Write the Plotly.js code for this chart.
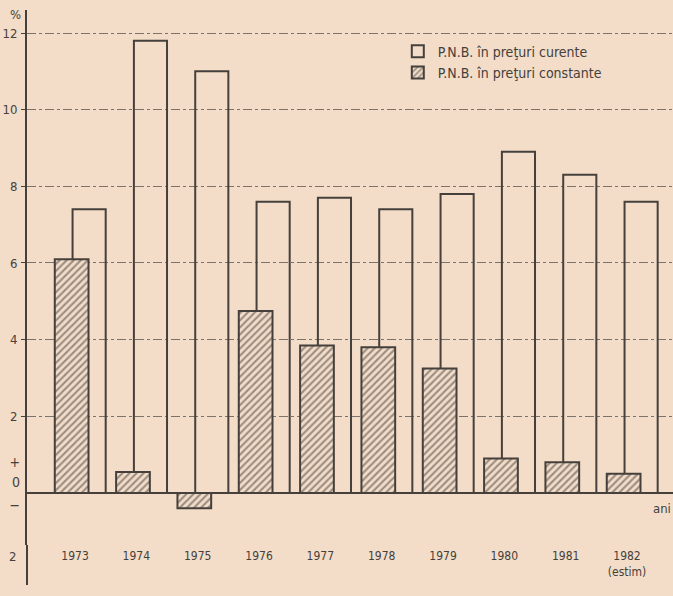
<!DOCTYPE html>
<html>
<head>
<meta charset="utf-8">
<script src="https://cdn.plot.ly/plotly-3.0.1.min.js"></script>
<style>
html,body{margin:0;padding:0;background:#f3ddc9;}
#chart{width:673px;height:596px;}
</style>
</head>
<body>
<div id="chart"></div>
<script>
// ---- data ----
const years = [1973, 1974, 1975, 1976, 1977, 1978, 1979, 1980, 1981, 1982];
const yearLabels = ['1973', '1974', '1975', '1976', '1977', '1978', '1979', '1980', '1981', '1982<br>(estim)'];
const pnbCurente = [7.4, 11.8, 11.0, 7.6, 7.7, 7.4, 7.8, 8.9, 8.3, 7.6];
const pnbConstante = [6.1, 0.55, -0.4, 4.75, 3.85, 3.8, 3.25, 0.9, 0.8, 0.5];
const yTickVals = [2, 4, 6, 8, 10, 12];
const yTickText = ['2', '4', '6', '8', '10', '12'];
const signVals = [0.8, 0.29, -0.31];
const signText = ['+', '0', '\u2212'];
const seriesNames = ['P.N.B. \u00een pre\u0163uri curente', 'P.N.B. \u00een pre\u0163uri constante'];

const bg = '#f3ddc9';
const ink = '#45403b';
const font = 'DejaVu Sans Condensed, Liberation Sans Narrow, sans-serif';

const traces = [
  {
    type: 'bar', x: years, y: pnbCurente, name: seriesNames[0],
    offset: -0.04, width: 0.54,
    marker: {color: 'rgba(0,0,0,0)', line: {color: ink, width: 2}},
    hoverinfo: 'skip'
  },
  {
    type: 'bar', x: years, y: pnbConstante, name: seriesNames[1],
    offset: -0.33, width: 0.55,
    marker: {color: bg, line: {color: ink, width: 2},
      pattern: {shape: '/', size: 5, solidity: 0.42, fgcolor: ink, bgcolor: bg, fillmode: 'overlay'}},
    hoverinfo: 'skip'
  },
  {
    type: 'scatter', x: [years[0]], y: [0], yaxis: 'y2', mode: 'markers',
    marker: {opacity: 0}, showlegend: false, hoverinfo: 'skip'
  }
];

const yRange = [-1.357, 12.6];

const layout = {
  width: 673, height: 596,
  paper_bgcolor: bg, plot_bgcolor: bg,
  margin: {l: 27, r: 0, t: 10, b: 51},
  barmode: 'overlay',
  font: {family: font, color: ink, size: 12},
  showlegend: true,
  legend: {
    x: 0.574, y: 0.952, xanchor: 'left', yanchor: 'top',
    bgcolor: 'rgba(0,0,0,0)', font: {family: font, size: 14, color: ink},
    traceorder: 'normal', itemwidth: 30, tracegroupgap: 2
  },
  xaxis: {
    range: [1972.217, 1982.75],
    tickvals: years, ticktext: yearLabels,
    showgrid: false, zeroline: false, showline: false, ticks: '',
    tickfont: {family: font, size: 12, color: ink},
    ticklabelstandoff: 2, fixedrange: true
  },
  yaxis: {
    range: yRange,
    tickvals: yTickVals, ticktext: yTickText,
    showgrid: true, gridcolor: '#7d736b', gridwidth: 1, griddash: 'dashdot',
    zeroline: true, zerolinecolor: ink, zerolinewidth: 2,
    showline: true, linecolor: ink, linewidth: 2,
    ticks: 'outside', ticklen: 4, tickcolor: ink,
    tickfont: {family: font, size: 13, color: ink},
    ticklabelstandoff: 1, fixedrange: true
  },
  yaxis2: {
    range: yRange, overlaying: 'y', side: 'left',
    tickvals: signVals, ticktext: signText,
    showgrid: false, zeroline: false, showline: false, ticks: '',
    tickfont: {family: font, size: 14, color: ink},
    ticklabelstandoff: 6, fixedrange: true
  },
  shapes: [
    {type: 'line', xref: 'paper', yref: 'paper', x0: 0, x1: 0, y0: 0, y1: -0.0748,
     line: {color: ink, width: 2}}
  ],
  annotations: [
    {text: '%', xref: 'paper', yref: 'paper', x: 0, y: 1.0, xanchor: 'right', yanchor: 'bottom',
     xshift: -4, yshift: -14, showarrow: false, font: {family: font, size: 13, color: ink}},
    {text: 'ani', xref: 'paper', yref: 'y', x: 1, y: 0, xanchor: 'right', yanchor: 'top',
     yshift: -6, showarrow: false, font: {family: font, size: 13, color: ink}},
    {text: '2', xref: 'paper', yref: 'paper', x: 0, y: 0, xanchor: 'right', yanchor: 'top',
     xshift: -9, yshift: -2, showarrow: false, font: {family: font, size: 13, color: ink}}
  ]
};

Plotly.newPlot('chart', traces, layout, {staticPlot: true, displayModeBar: false});
</script>
</body>
</html>
